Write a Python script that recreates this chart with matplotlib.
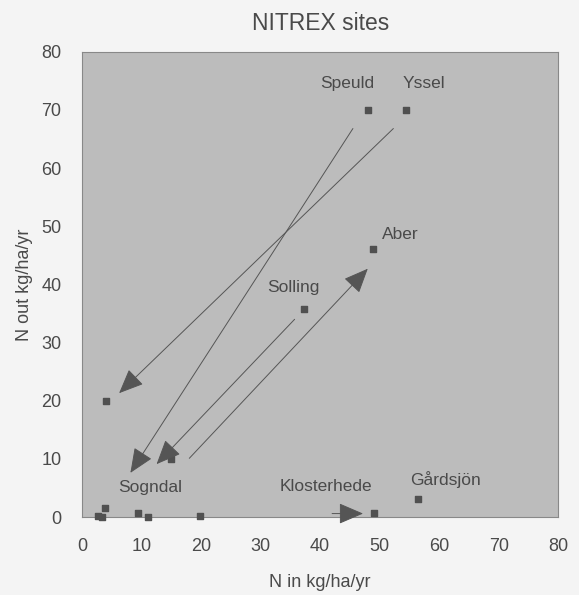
import matplotlib.pyplot as plt

plt.rcParams['font.family'] = ['Liberation Sans', 'DejaVu Sans']

# site points (N in, N out)
n_in = [48, 54.5, 48.8, 37.3, 4.0, 15.0, 56.5, 49.0, 3.9, 2.6, 3.4, 9.4, 11.1, 19.8]
n_out = [70, 70, 46.1, 35.8, 19.9, 10.0, 3.1, 0.7, 1.5, 0.1, 0.0, 0.7, 0.0, 0.2]

site_names = ["Speuld", "Yssel", "Aber", "Solling", "Sogndal", "Klosterhede", "Gårdsjön"]
label_x = [44.5, 57.5, 53.5, 35.5, 11.5, 41.0, 61.0]
label_y = [74.5, 74.5, 48.5, 39.5, 5.0, 5.3, 6.5]

# arrows: start -> end
arrow_start = [(45.5, 66.8), (52.3, 66.8), (18.0, 10.1), (35.7, 34.0), (42.0, 0.6)]
arrow_end = [(8.1, 7.6), (6.2, 21.3), (48.0, 42.7), (12.5, 9.1), (47.2, 0.6)]

fig = plt.figure(figsize=(5.79, 5.95), dpi=100)
fig.patch.set_facecolor('#f4f4f4')
ax = fig.add_axes([0.142, 0.131, 0.822, 0.782])
ax.set_facecolor('#bcbcbc')

grey = '#4a4a4a'
ax.scatter(n_in, n_out, marker='s', s=22, color='#505050', zorder=3, clip_on=False)

for (x0, y0), (x1, y1) in zip(arrow_start, arrow_end):
    ax.annotate('', xy=(x1, y1), xytext=(x0, y0),
                arrowprops=dict(arrowstyle='-|>,head_length=0.7,head_width=0.3',
                                color='#555555', lw=0.7,
                                mutation_scale=22, shrinkA=0, shrinkB=0))

for name, x, y in zip(site_names, label_x, label_y):
    ax.text(x, y, name, ha='center', va='center', fontsize=12.5, color=grey)

ax.set_xlim(0, 80)
ax.set_ylim(0, 80)
ax.set_xticks(range(0, 81, 10))
ax.set_yticks(range(0, 81, 10))
ax.tick_params(length=0, labelsize=13, colors=grey, pad=15)
for s in ax.spines.values():
    s.set_color('#888888')
    s.set_linewidth(0.8)

ax.set_xlabel('N in kg/ha/yr', fontsize=13, color=grey, labelpad=14)
ax.set_ylabel('N out kg/ha/yr', fontsize=13, color=grey, labelpad=6)
ax.set_title('NITREX sites', fontsize=16.5, color=grey, pad=16)

fig.savefig('out.png', dpi=100, facecolor=fig.get_facecolor())
